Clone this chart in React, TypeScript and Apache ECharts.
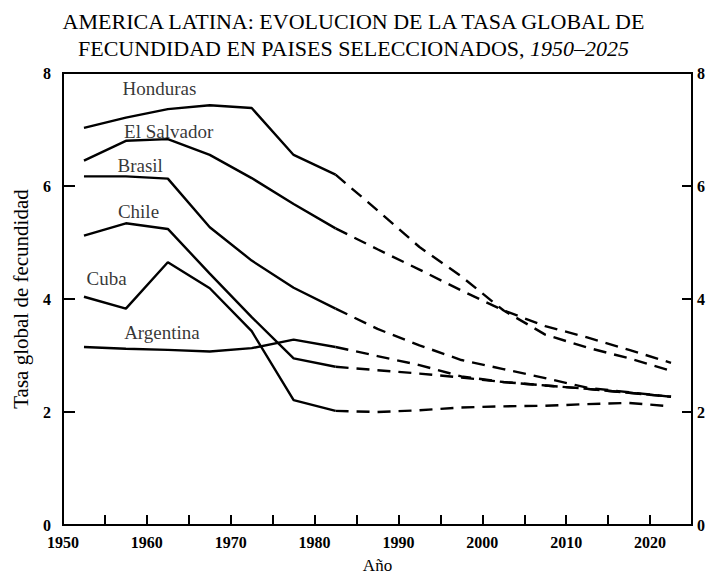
import React, { useEffect, useRef } from "react";
import * as echarts from "echarts";

const years = [1952.5, 1957.5, 1962.5, 1967.5, 1972.5, 1977.5, 1982.5, 1987.5, 1992.5, 1997.5, 2002.5, 2007.5, 2012.5, 2017.5, 2022.5];
const honduras = [7.03, 7.21, 7.36, 7.43, 7.38, 6.55, 6.2, 5.57, 4.92, 4.4, 3.8, 3.37, 3.14, 2.95, 2.73];
const elSalvador = [6.45, 6.8, 6.83, 6.55, 6.14, 5.68, 5.25, 4.88, 4.52, 4.15, 3.8, 3.52, 3.32, 3.1, 2.87];
const brasil = [6.17, 6.17, 6.13, 5.27, 4.68, 4.2, 3.83, 3.47, 3.18, 2.92, 2.76, 2.6, 2.43, 2.35, 2.27];
const chile = [5.12, 5.34, 5.24, 4.45, 3.68, 2.95, 2.8, 2.74, 2.68, 2.61, 2.53, 2.47, 2.41, 2.34, 2.27];
const cuba = [4.04, 3.83, 4.65, 4.19, 3.43, 2.21, 2.02, 2.0, 2.03, 2.08, 2.1, 2.11, 2.14, 2.16, 2.1];
const argentina = [3.15, 3.12, 3.1, 3.07, 3.13, 3.28, 3.15, 2.99, 2.83, 2.63, 2.53, 2.47, 2.41, 2.34, 2.27];

const countries = ["Honduras", "El Salvador", "Brasil", "Chile", "Cuba", "Argentina"];
const values = [honduras, elSalvador, brasil, chile, cuba, argentina];
const projectionStart = 6; // index of 1982.5, where projections begin

const labelX = [1961.5, 1962.6, 1959.2, 1959.0, 1955.2, 1961.8];
const labelY = [7.73, 6.97, 6.37, 5.54, 4.37, 3.41];

const yTicks = [0, 2, 4, 6, 8];

const titleLine1 = "AMERICA LATINA: EVOLUCION DE LA TASA GLOBAL DE";
const titleLine2a = "FECUNDIDAD EN PAISES SELECCIONADOS, ";
const titleLine2b = "1950–2025";

const serif = "'Liberation Serif', 'DejaVu Serif', serif";

export default function App() {
  const ref = useRef<HTMLDivElement>(null);
  useEffect(() => {
    if (!ref.current) return;
    const chart = echarts.init(ref.current, null, { renderer: "svg" });
    const series: any[] = [];
    values.forEach((vals, ci) => {
      const pts = years.map((y, i) => [y, vals[i]]);
      series.push({
        type: "line",
        name: countries[ci],
        data: pts.slice(0, projectionStart + 1),
        showSymbol: false,
        symbol: "none",
        lineStyle: { color: "#000", width: 2.4 },
        z: 3,
      });
      series.push({
        type: "line",
        name: countries[ci] + " (proy.)",
        data: pts.slice(projectionStart),
        showSymbol: false,
        symbol: "none",
        lineStyle: { color: "#000", width: 2.4, type: [13, 8] },
        z: 3,
      });
    });
    series.push({
      type: "scatter",
      name: "labels",
      data: countries.map((c, i) => [labelX[i], labelY[i], c]),
      symbolSize: 0,
      label: {
        show: true,
        position: "inside",
        formatter: (p: any) => p.data[2],
        color: "#000",
        fontFamily: serif,
        fontSize: 19,
      },
      z: 5,
    });

    chart.setOption({
      animation: false,
      backgroundColor: "#fff",
      title: {
        left: "center",
        top: 3,
        text: `{a|${titleLine1}}\n{a|${titleLine2a}}{b|${titleLine2b}}`,
        textStyle: {
          fontWeight: "normal",
          rich: {
            a: { fontFamily: serif, fontSize: 22, fontWeight: "normal", color: "#000", lineHeight: 27 },
            b: { fontFamily: serif, fontSize: 22, fontWeight: "normal", color: "#000", fontStyle: "italic", lineHeight: 27 },
          },
        },
      },
      grid: {
        left: 63,
        right: 15,
        top: 73,
        bottom: 53,
        containLabel: false,
        outerBoundsMode: "none",
        show: true,
        borderColor: "#000",
        borderWidth: 2,
        backgroundColor: "transparent",
      },
      xAxis: {
        type: "value",
        min: 1950,
        max: 2025,
        interval: 5,
        name: "Año",
        nameLocation: "middle",
        nameGap: 32,
        nameTextStyle: { fontFamily: serif, fontSize: 17, color: "#000" },
        axisLine: { show: true, lineStyle: { color: "#000", width: 2 } },
        axisTick: { show: true, inside: true, length: 10, lineStyle: { color: "#000", width: 2 } },
        splitLine: { show: false },
        axisLabel: {
          fontFamily: serif,
          fontSize: 16,
          fontWeight: "bold",
          color: "#000",
          margin: 9,
          formatter: (v: number) => (v % 10 === 0 && v < 2025 ? String(v) : ""),
        },
      },
      yAxis: [
        {
          type: "value",
          min: 0,
          max: 8,
          interval: 2,
          position: "left",
          name: "Tasa global de fecundidad",
          nameLocation: "middle",
          nameGap: 32,
          nameTextStyle: { fontFamily: serif, fontSize: 21, color: "#000" },
          axisLine: { show: true, lineStyle: { color: "#000", width: 2 } },
          axisTick: { show: true, inside: true, length: 12, lineStyle: { color: "#000", width: 2 } },
          splitLine: { show: false },
          axisLabel: {
            fontFamily: serif,
            fontSize: 16,
            fontWeight: "bold",
            color: "#000",
            margin: 12,
            formatter: (v: number) => (yTicks.includes(v) ? String(v) : ""),
          },
        },
        {
          type: "value",
          min: 0,
          max: 8,
          interval: 2,
          position: "right",
          axisLine: { show: true, lineStyle: { color: "#000", width: 2 } },
          axisTick: { show: true, inside: true, length: 10, lineStyle: { color: "#000", width: 2 } },
          splitLine: { show: false },
          axisLabel: {
            fontFamily: serif,
            fontSize: 16,
            fontWeight: "bold",
            color: "#000",
            margin: 5,
            formatter: (v: number) => (yTicks.includes(v) ? String(v) : ""),
          },
        },
      ],
      series,
    });
    return () => chart.dispose();
  }, []);
  return (
    <div
      ref={ref}
      style={{ position: "fixed", left: 0, top: 0, width: 707, height: 578, background: "#fff" }}
    />
  );
}
